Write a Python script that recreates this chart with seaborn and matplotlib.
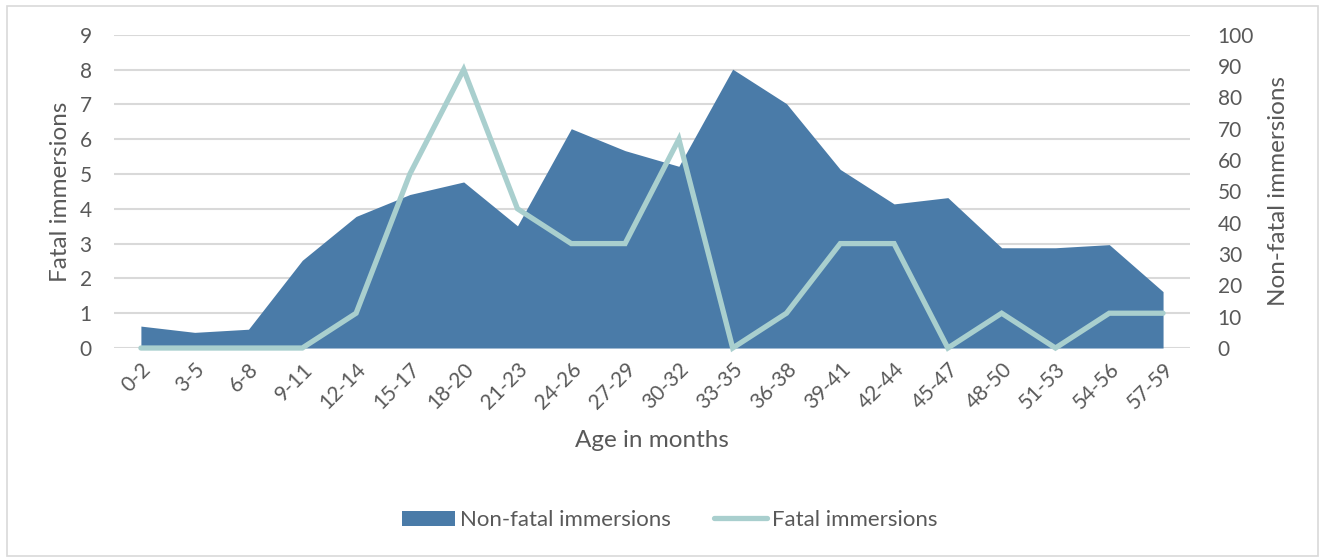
"""Fatal and non-fatal immersions by age band (area + line, two y axes)."""

import matplotlib

matplotlib.use("Agg")

import matplotlib.pyplot as plt
import numpy as np
import pandas as pd
import seaborn as sns
from matplotlib.lines import Line2D
from matplotlib.patches import Patch, Rectangle


age_bands = [
    "0-2", "3-5", "6-8", "9-11", "12-14", "15-17", "18-20", "21-23", "24-26", "27-29",
    "30-32", "33-35", "36-38", "39-41", "42-44", "45-47", "48-50", "51-53", "54-56", "57-59",
]
non_fatal = [7, 5, 6, 28, 42, 49, 53, 39, 70, 63, 58, 89, 78, 57, 46, 48, 32, 32, 33, 18]
fatal = [0, 0, 0, 0, 1, 5, 8, 4, 3, 3, 6, 0, 1, 3, 3, 0, 1, 0, 1, 1]

AREA_COLOR = "#4A7BA8"
LINE_COLOR = "#A9CFCE"
TEXT_COLOR = "#595959"
GRID_COLOR = "#D9D9D9"

sns.set_theme(style="white")
plt.rcParams["font.family"] = ["Lato", "DejaVu Sans"]
plt.rcParams["text.color"] = TEXT_COLOR
plt.rcParams["axes.labelcolor"] = TEXT_COLOR
plt.rcParams["xtick.color"] = TEXT_COLOR
plt.rcParams["ytick.color"] = TEXT_COLOR


def main() -> None:
    df = pd.DataFrame({"band": age_bands, "non_fatal": non_fatal, "fatal": fatal})
    df["pos"] = np.arange(len(df))

    fig = plt.figure(figsize=(13.21, 5.58), dpi=100)
    ax = fig.add_axes([0.0863, 0.3763, 0.8145, 0.5615])

    # Base axis: fatal scale on the left, carries the gridlines
    ax.set_ylim(0, 9)
    ax.set_yticks(range(0, 10))
    ax.set_xlim(-0.5, len(df) - 0.5)
    ax.grid(axis="y", color=GRID_COLOR, linewidth=1.5)
    ax.set_axisbelow(True)
    ax.set_xticks(df["pos"])
    ax.set_xticklabels(df["band"], rotation=45, ha="right", rotation_mode="anchor")
    ax.tick_params(axis="both", length=0, labelsize=15)
    ax.tick_params(axis="x", pad=8)
    ax.tick_params(axis="y", pad=16)
    ax.set_ylabel("Fatal immersions", fontsize=17.5, labelpad=6)
    ax.set_xlabel("Age in months", fontsize=17.5, labelpad=12)

    # Non-fatal area on the right axis, drawn over the gridlines
    ax_area = ax.twinx()
    ax_area.fill_between(df["pos"], df["non_fatal"], color=AREA_COLOR, linewidth=0)
    ax_area.set_ylim(0, 100)
    ax_area.set_yticks(range(0, 101, 10))
    ax_area.tick_params(axis="y", length=0, labelsize=15, pad=20)
    ax_area.set_ylabel("Non-fatal immersions", fontsize=17.5, labelpad=10)

    # Fatal line on top, sharing the left scale
    ax_line = fig.add_axes(ax.get_position(), sharex=ax, sharey=ax)
    ax_line.patch.set_visible(False)
    sns.lineplot(data=df, x="pos", y="fatal", ax=ax_line, color=LINE_COLOR,
                 linewidth=3.8, clip_on=False, solid_joinstyle="miter")
    ax_line.axis("off")

    for a in (ax, ax_area):
        for spine in a.spines.values():
            spine.set_visible(False)

    handles = [
        Patch(facecolor=AREA_COLOR, edgecolor="none"),
        Line2D([0], [0], color=LINE_COLOR, linewidth=3.8),
    ]
    fig.legend(handles, ["Non-fatal immersions", "Fatal immersions"], loc="center",
               bbox_to_anchor=(0.507, 0.068), ncol=2, frameon=False, fontsize=16,
               handlelength=2.4, handletextpad=0.25, columnspacing=1.9)

    fig.patches.append(Rectangle((0.005, 0.003), 0.993, 0.987, transform=fig.transFigure,
                                 fill=False, edgecolor=GRID_COLOR, linewidth=1.2))

    fig.savefig("out.png", dpi=100)
    plt.close(fig)


if __name__ == "__main__":
    main()
